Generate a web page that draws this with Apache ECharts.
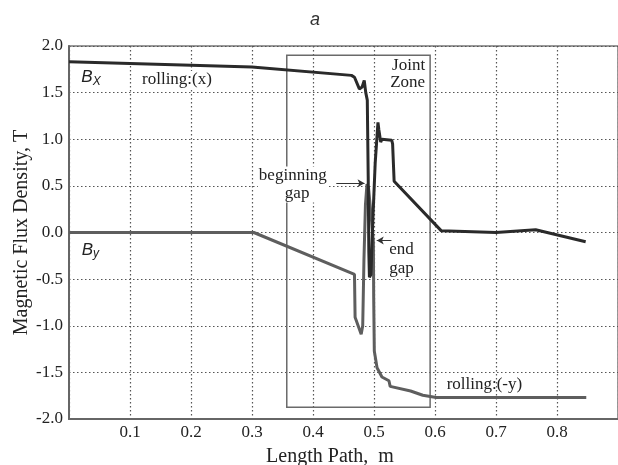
<!DOCTYPE html>
<html>
<head>
<meta charset="utf-8">
<script src="https://cdn.jsdelivr.net/npm/echarts@6/dist/echarts.min.js"></script>
<style>
html,body{margin:0;padding:0;background:#fff;}
#chart{width:618px;height:465px;}
</style>
</head>
<body>
<div id="chart"></div>
<script>
// ---- data ----
const bxX = [0, 0.3, 0.463, 0.468, 0.476, 0.4805, 0.484, 0.4865, 0.489, 0.4905, 0.4915, 0.4925, 0.495, 0.4985, 0.502, 0.5065, 0.508, 0.511, 0.513, 0.529, 0.5305, 0.533, 0.61, 0.70, 0.765, 0.847];
const bxY = [1.83, 1.775, 1.685, 1.665, 1.54, 1.56, 1.63, 1.5, 1.42, 0.6, -0.2, -0.48, -0.45, 0.2, 0.75, 1.18, 1.1, 0.97, 1.0, 0.99, 0.95, 0.55, 0.02, 0.0, 0.03, -0.10];
const byX = [0, 0.303, 0.468, 0.469, 0.479, 0.4815, 0.4835, 0.486, 0.4885, 0.491, 0.495, 0.499, 0.4995, 0.5005, 0.505, 0.513, 0.5245, 0.5265, 0.56, 0.58, 0.602, 0.848];
const byY = [0, 0, -0.45, -0.91, -1.09, -1.0, -0.3, 0.3, 0.52, 0.48, 0.2, -0.1, -0.7, -1.27, -1.45, -1.55, -1.59, -1.65, -1.70, -1.745, -1.77, -1.77];
const xRange = [0, 0.9];
const yRange = [-2, 2];
const jointZoneX = [0.357, 0.592];
const jointZoneY = [1.9, -1.875];

const bxData = bxX.map((x, i) => [x, bxY[i]]);
const byData = byX.map((x, i) => [x, byY[i]]);

const serif = '"Liberation Serif", "Times New Roman", serif';
const sans = '"Liberation Sans", Arial, sans-serif';

function note(coord, text, extra) {
  return {
    coord: coord,
    symbol: 'circle',
    symbolSize: 1,
    itemStyle: { color: 'rgba(0,0,0,0)' },
    label: Object.assign({
      show: true,
      position: 'inside',
      formatter: text,
      color: '#222',
      fontFamily: serif,
      fontSize: 17
    }, extra || {})
  };
}

const subRich = {
  b: { fontFamily: sans, fontStyle: 'italic', fontSize: 17, color: '#222' },
  s: { fontFamily: sans, fontStyle: 'italic', fontSize: 12, color: '#222', padding: [7, 0, 0, 0] }
};

const chart = echarts.init(document.getElementById('chart'), null, { renderer: 'canvas' });
chart.setOption({
  animation: false,
  backgroundColor: '#fff',
  title: {
    text: 'a',
    left: 305,
    top: 6,
    textStyle: { fontFamily: sans, fontStyle: 'italic', fontWeight: 'normal', fontSize: 18, color: '#333' }
  },
  grid: {
    left: 69, right: 0, top: 46, bottom: 46,
    outerBoundsMode: 'none',
    containLabel: false,
    show: true, borderColor: '#777', borderWidth: 1.5
  },
  xAxis: {
    type: 'value',
    min: xRange[0], max: xRange[1], interval: 0.1,
    name: 'Length Path,  m',
    nameLocation: 'middle',
    nameGap: 28,
    nameTextStyle: { fontFamily: serif, fontSize: 20, color: '#222', padding: [0, 27, 0, 0] },
    axisLine: { show: true, onZero: false, lineStyle: { color: '#666', width: 2 } },
    axisTick: { show: false },
    axisLabel: {
      fontFamily: serif, fontSize: 17, color: '#222', margin: 5,
      formatter: v => (Math.abs(v) < 1e-9 || v > 0.85) ? '' : v.toFixed(1)
    },
    splitLine: { show: true, lineStyle: { color: '#555', width: 1.2, type: [1.5, 2.5] } }
  },
  yAxis: {
    type: 'value',
    min: yRange[0], max: yRange[1], interval: 0.5,
    name: 'Magnetic Flux Density, T',
    nameLocation: 'middle',
    nameGap: 37,
    nameMoveOverlap: false,
    nameTextStyle: { fontFamily: serif, fontSize: 20, color: '#222' },
    axisLine: { show: true, onZero: false, lineStyle: { color: '#666', width: 2 } },
    axisTick: { show: false },
    axisLabel: {
      fontFamily: serif, fontSize: 17, color: '#222', margin: 6,
      formatter: v => v.toFixed(1)
    },
    splitLine: { show: true, lineStyle: { color: '#555', width: 1.2, type: [1.5, 2.5] } }
  },
  series: [
    {
      name: 'By',
      type: 'line',
      data: byData,
      showSymbol: false,
      lineStyle: { color: '#5e5e5e', width: 3 },
      z: 3,
      markArea: {
        silent: true,
        itemStyle: { color: 'rgba(0,0,0,0)', borderColor: '#6a6a6a', borderWidth: 1.5 },
        data: [[{ coord: [jointZoneX[0], jointZoneY[0]] }, { coord: [jointZoneX[1], jointZoneY[1]] }]]
      }
    },
    {
      name: 'Bx',
      type: 'line',
      data: bxData,
      showSymbol: false,
      lineStyle: { color: '#2a2a2a', width: 3 },
      z: 4
    },
    {
      name: 'notes',
      type: 'line',
      data: [],
      z: 5,
      markLine: {
        silent: true,
        symbol: ['none', 'arrow'],
        symbolSize: [6, 7],
        lineStyle: { color: '#333', width: 1, type: 'solid' },
        label: { show: false },
        data: [
          [{ coord: [0.4382, 0.529] }, { coord: [0.4845, 0.529] }],
          [{ coord: [0.5286, -0.086] }, { coord: [0.5045, -0.086] }]
        ]
      },
      markPoint: {
        silent: true,
        data: [
          note([0.036, 1.66], '{b|B}{s|X}', { rich: subRich }),
          note([0.177, 1.64], 'rolling:(x)', { backgroundColor: '#fff', padding: [0, 1] }),
          note([0.035, -0.19], '{b|B}{s|y}', { rich: subRich }),
          note([0.556, 1.70], 'Joint\nZone', { align: 'right', lineHeight: 17, offset: [17, 0] }),
          note([0.367, 0.515], 'beginning\n  gap', { lineHeight: 18, backgroundColor: '#fff', padding: [0, 1] }),
          note([0.545, -0.285], 'end\ngap', { lineHeight: 19 }),
          note([0.681, -1.625], 'rolling:(-y)', {})
        ]
      }
    }
  ]
});
</script>
</body>
</html>
